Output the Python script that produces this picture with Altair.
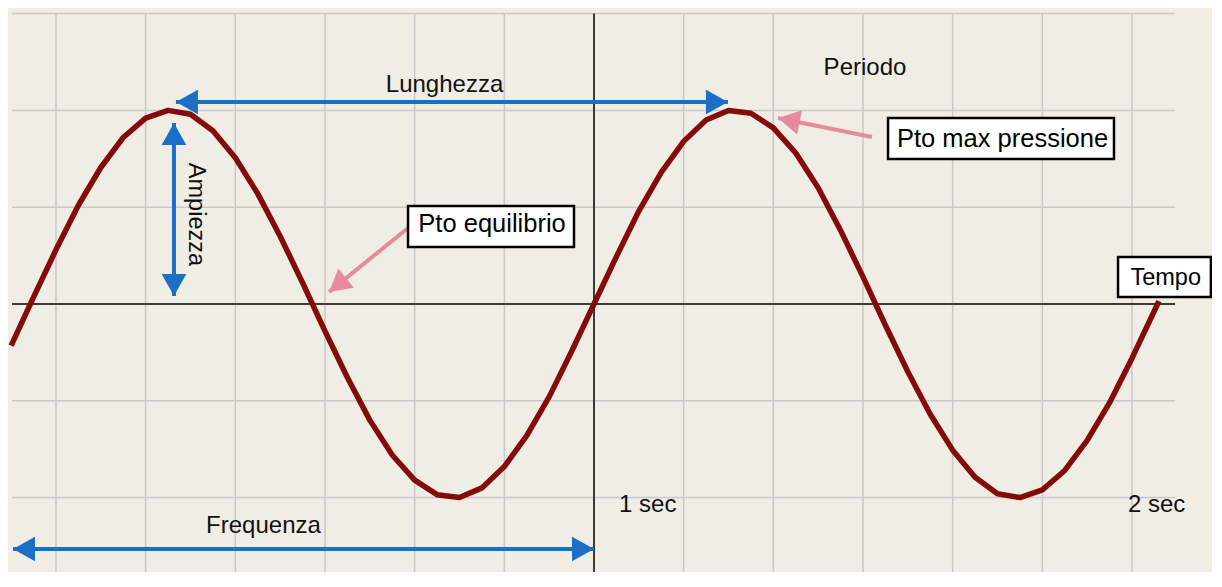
import altair as alt
import pandas as pd

# ---------------- data ----------------
# time axis in grid units (one grid column = 1), pressure in grid units
curve_x = [-6.5, -6.25, -6.0, -5.75, -5.5, -5.25, -5.0, -4.75, -4.5, -4.25,
           -4.0, -3.75, -3.5, -3.25, -3.0, -2.75, -2.5, -2.25, -2.0, -1.75,
           -1.5, -1.25, -1.0, -0.75, -0.5, -0.25, 0.0, 0.25, 0.5, 0.75,
           1.0, 1.25, 1.5, 1.75, 2.0, 2.25, 2.5, 2.75, 3.0, 3.25,
           3.5, 3.75, 4.0, 4.25, 4.5, 4.75, 5.0, 5.25, 5.5, 5.75,
           6.0, 6.25, 6.3]
curve_y = [-0.43, 0.07, 0.56, 1.02, 1.41, 1.72, 1.92, 2.00, 1.96, 1.79,
           1.51, 1.14, 0.70, 0.22, -0.28, -0.76, -1.20, -1.56, -1.82, -1.97,
           -2.00, -1.90, -1.68, -1.36, -0.96, -0.49, 0.00, 0.49, 0.96, 1.36,
           1.68, 1.90, 2.00, 1.97, 1.82, 1.56, 1.20, 0.76, 0.28, -0.22,
           -0.70, -1.14, -1.51, -1.79, -1.96, -2.00, -1.92, -1.72, -1.41, -1.02,
           -0.56, -0.07, 0.03]

grid_x = [-6, -5, -4, -3, -2, -1, 1, 2, 3, 4, 5, 6]
grid_y = [3, 2, 1, -1, -2]

label_text = ["Lunghezza", "Periodo", "Frequenza"]
tick_text = ["1 sec", "2 sec"]
box_text = ["Pto equilibrio", "Pto max pressione"]
tempo_text = ["Tempo"]
side_text = ["Ampiezza"]

# ---------------- layout (in data units) ----------------
X_MIN, X_MAX = -6.535, 6.892
Y_MIN, Y_MAX = -2.769, 3.058
GRID_LEFT, GRID_RIGHT, GRID_TOP = -6.49, 6.48, 3.0

BG = "#EFEDE4"
GRID = "#C9C9C9"
AXIS = "#3A3A3A"
RED = "#850B0B"
BLUE = "#1B6FC4"
PINK = "#E78A9C"
FONT = "Liberation Sans"

xs = alt.Scale(domain=[X_MIN, X_MAX], nice=False, zero=False)
ys = alt.Scale(domain=[Y_MIN, Y_MAX], nice=False, zero=False)


def X(f):
    return alt.X(f, type="quantitative", scale=xs, axis=None)


def Y(f):
    return alt.Y(f, type="quantitative", scale=ys, axis=None)


# grid
vgrid = pd.DataFrame({"x": grid_x, "y": [GRID_TOP] * len(grid_x), "y2": [Y_MIN] * len(grid_x)})
hgrid = pd.DataFrame({"y": grid_y, "x": [GRID_LEFT] * len(grid_y), "x2": [GRID_RIGHT] * len(grid_y)})
axes = pd.DataFrame({"x": [GRID_LEFT, 0.0], "x2": [GRID_RIGHT, 0.0],
                     "y": [0.0, GRID_TOP], "y2": [0.0, Y_MIN]})

vgrid_l = alt.Chart(vgrid).mark_rule(color=GRID, strokeWidth=1.5).encode(
    x=X("x"), y=Y("y"), y2=alt.Y2("y2"))
hgrid_l = alt.Chart(hgrid).mark_rule(color=GRID, strokeWidth=1.5).encode(
    x=X("x"), x2=alt.X2("x2"), y=Y("y"))
axes_l = alt.Chart(axes).mark_rule(color=AXIS, strokeWidth=2).encode(
    x=X("x"), x2=alt.X2("x2"), y=Y("y"), y2=alt.Y2("y2"))

# curve
curve = pd.DataFrame({"x": curve_x, "y": curve_y})
curve_l = alt.Chart(curve).mark_line(color=RED, strokeWidth=5.5, strokeJoin="round").encode(
    x=X("x"), y=Y("y"), order="x:Q")

# arrows
shafts = pd.DataFrame({
    "x": [-4.662, -4.684, -6.479, -2.074, 3.100],
    "x2": [1.494, -4.684, 0.0, -2.955, 2.052],
    "y": [2.087, 1.870, -2.531, 0.785, 1.725],
    "y2": [2.087, 0.083, -2.531, 0.124, 1.921],
    "kind": ["blue", "blue", "blue", "pink", "pink"],
})
heads = pd.DataFrame({
    "x": [-4.662, 1.494, -4.684, -4.684, -6.479, 0.0, -2.955, 2.052],
    "y": [2.087, 2.087, 1.870, 0.083, -2.531, -2.531, 0.124, 1.921],
    "angle": [270, 90, 0, 180, 270, 90, 231, 281.4],
    "kind": ["blue"] * 6 + ["pink"] * 2,
})
col = alt.Color("kind:N", scale=alt.Scale(domain=["blue", "pink"], range=[BLUE, PINK]), legend=None)
shaft_l = alt.Chart(shafts).mark_rule(strokeWidth=4).encode(
    x=X("x"), x2=alt.X2("x2"), y=Y("y"), y2=alt.Y2("y2"), color=col)
head_l = alt.Chart(heads).mark_point(
    shape="M0,0L-0.56,1L0.56,1Z", size=1936, filled=True, opacity=1, strokeWidth=0
).encode(x=X("x"), y=Y("y"), angle=alt.Angle("angle:Q", scale=None), color=col)

# boxes
boxes = pd.DataFrame({
    "x": [-2.074, 3.279, 5.844], "x2": [-0.223, 5.799, 6.880],
    "y": [1.012, 1.921, 0.486], "y2": [0.589, 1.498, 0.072],
})
box_l = alt.Chart(boxes).mark_rect(fill="white", stroke="black", strokeWidth=2.5).encode(
    x=X("x"), x2=alt.X2("x2"), y=Y("y"), y2=alt.Y2("y2"))

box_lab = pd.DataFrame({"t": box_text, "x": [-1.137, 4.556], "y": [0.744, 1.622]})
box_txt = alt.Chart(box_lab).mark_text(font=FONT, fontSize=25.5, align="center",
                                       baseline="alphabetic", color="black").encode(
    x=X("x"), y=Y("y"), text="t:N")

tempo_lab = pd.DataFrame({"t": tempo_text, "x": [6.376], "y": [0.196]})
tempo_txt = alt.Chart(tempo_lab).mark_text(font=FONT, fontSize=23.5, align="center",
                                           baseline="alphabetic", color="black").encode(
    x=X("x"), y=Y("y"), text="t:N")

labs = pd.DataFrame({"t": label_text, "x": [-1.667, 3.022, -3.686], "y": [2.190, 2.366, -2.366]})
lab_txt = alt.Chart(labs).mark_text(font=FONT, fontSize=24, align="center",
                                    baseline="alphabetic", color="#111111").encode(
    x=X("x"), y=Y("y"), text="t:N")

ticks = pd.DataFrame({"t": tick_text, "x": [0.279, 5.955], "y": [-2.149, -2.149]})
tick_txt = alt.Chart(ticks).mark_text(font=FONT, fontSize=24, align="left",
                                      baseline="alphabetic", color="#111111").encode(
    x=X("x"), y=Y("y"), text="t:N")

side = pd.DataFrame({"t": side_text, "x": [-4.440], "y": [0.925]})
side_txt = alt.Chart(side).mark_text(font=FONT, fontSize=23.5, align="center", angle=90,
                                     baseline="middle", color="#111111").encode(
    x=X("x"), y=Y("y"), text="t:N")

chart = alt.layer(
    vgrid_l, hgrid_l, axes_l, curve_l, shaft_l, head_l, box_l, box_txt, tempo_txt,
    lab_txt, tick_txt, side_txt
).properties(
    width=1204, height=564, padding=0,
    autosize=alt.AutoSizeParams(type="none"),
    background=BG,
).configure_view(stroke=None)

chart.save("out.html", embed_options={"renderer": "svg", "actions": False})
